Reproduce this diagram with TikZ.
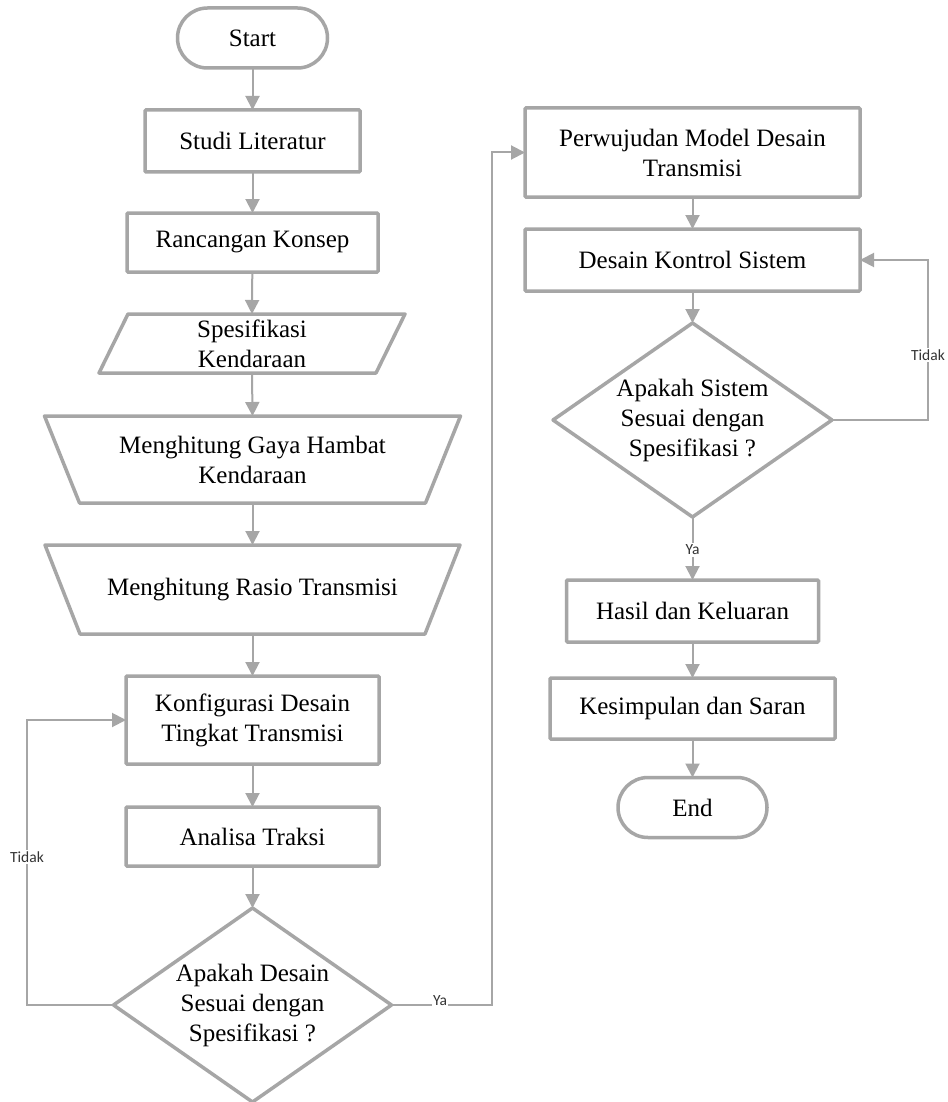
\documentclass[tikz,border=0pt]{standalone}
\usepackage{fontspec}
\setmainfont{Liberation Serif}
\newfontfamily\lblfont{Carlito}
\usetikzlibrary{arrows.meta,calc}
\definecolor{lg}{HTML}{A6A6A6}
\definecolor{lbl}{HTML}{333333}
\begin{document}
\begin{tikzpicture}[x=1pt,y=-1pt,
  every node/.style={font=\fontsize{25}{30}\selectfont, align=center, inner sep=0pt, outer sep=0pt},
  sz/.style n args={2}{minimum width=#1pt, minimum height=#2pt},
  blk/.style={draw=lg, line width=3.5pt, rounded corners=1pt, rectangle},
  term/.style={draw=lg, line width=3.5pt, rounded corners=30pt, rectangle},
  hid/.style={rectangle, draw=none},
  outl/.style={draw=lg, line width=3.5pt, line join=round},
  conn/.style={draw=lg, line width=2pt, -{Triangle[length=14pt,width=14pt]}},
  lab/.style={font=\lblfont\fontsize{15.5}{18}\selectfont, text=lbl, fill=white, inner sep=1.5pt}]
\useasboundingbox (0,0) rectangle (947,1102);
\fill[white] (0,0) rectangle (947,1102);
% left column
\node[term, sz={150}{60}] (start) at (252.5,38) {Start};
\node[blk, sz={215}{62}] (studi) at (252.5,141) {Studi Literatur};
\node[blk, sz={251}{59}] (ranc) at (252.5,242.5) {Rancangan Konsep};
\node[hid, sz={306}{59}] (spek) at (252,343.5) {Spesifikasi\\Kendaraan};
\draw[outl] ($(spek.north west)+(29,0)$) -- (spek.north east) -- ($(spek.south east)-(29,0)$) -- (spek.south west) -- cycle;
\node[hid, sz={416}{87}] (gaya) at (252.5,459.5) {Menghitung Gaya Hambat\\Kendaraan};
\draw[outl] (gaya.north west) -- (gaya.north east) -- ($(gaya.south east)-(35,0)$) -- ($(gaya.south west)+(35,0)$) -- cycle;
\node[hid, sz={415}{89}] (rasio) at (252.5,589.5) {Menghitung Rasio Transmisi};
\draw[outl] (rasio.north west) -- (rasio.north east) -- ($(rasio.south east)-(35,0)$) -- ($(rasio.south west)+(35,0)$) -- cycle;
\node[blk, sz={253}{88}] (konf) at (252.5,720) {Konfigurasi Desain\\Tingkat Transmisi};
\node[blk, sz={253}{59}] (anal) at (252.5,836.5) {Analisa Traksi};
\node[hid, sz={278}{194}] (d1) at (252.5,1005) {Apakah Desain\\Sesuai dengan\\Spesifikasi ?};
\draw[outl] (d1.north) -- (d1.east) -- (d1.south) -- (d1.west) -- cycle;
% right column
\node[blk, sz={335}{89}] (perw) at (692.5,152.5) {Perwujudan Model Desain\\Transmisi};
\node[blk, sz={335}{62}] (dks) at (692.5,260) {Desain Kontrol Sistem};
\node[hid, sz={279}{194}] (d2) at (692.5,420) {Apakah Sistem\\Sesuai dengan\\Spesifikasi ?};
\draw[outl] (d2.north) -- (d2.east) -- (d2.south) -- (d2.west) -- cycle;
\node[blk, sz={252}{62}] (hasil) at (692.5,611) {Hasil dan Keluaran};
\node[blk, sz={285}{61}] (kes) at (692.5,708.5) {Kesimpulan dan Saran};
\node[term, sz={149}{60}] (end) at (692.5,807.5) {End};
% connectors
\draw[conn] (start) -- (studi);
\draw[conn] (studi) -- (ranc);
\draw[conn] (ranc) -- (spek.north);
\draw[conn] (spek.south) -- (gaya.north);
\draw[conn] (gaya.south) -- (rasio.north);
\draw[conn] (rasio.south) -- (konf);
\draw[conn] (konf) -- (anal);
\draw[conn] (anal) -- (d1.north);
\coordinate (tl) at (27,1005);
\draw[conn] (d1.west) -- (tl) |- (konf.west);
\coordinate (yr) at (491.5,1005);
\draw[conn] (d1.east) -- (yr) |- (perw.west);
\draw[conn] (perw) -- (dks);
\draw[conn] (dks) -- (d2.north);
\coordinate (tr) at (928,420);
\draw[conn] (d2.east) -- (tr) |- (dks.east);
\draw[conn] (d2.south) -- (hasil);
\draw[conn] (hasil) -- (kes);
\draw[conn] (kes) -- (end);
% labels
\node[lab] (ltl) at (27,857) {Tidak};
\node[lab, anchor=base] (lya) at (440,1005) {Ya};
\node[lab] (ltr) at (928,355) {Tidak};
\node[lab] (lya2) at (692.5,550) {Ya};
\end{tikzpicture}
\end{document}
